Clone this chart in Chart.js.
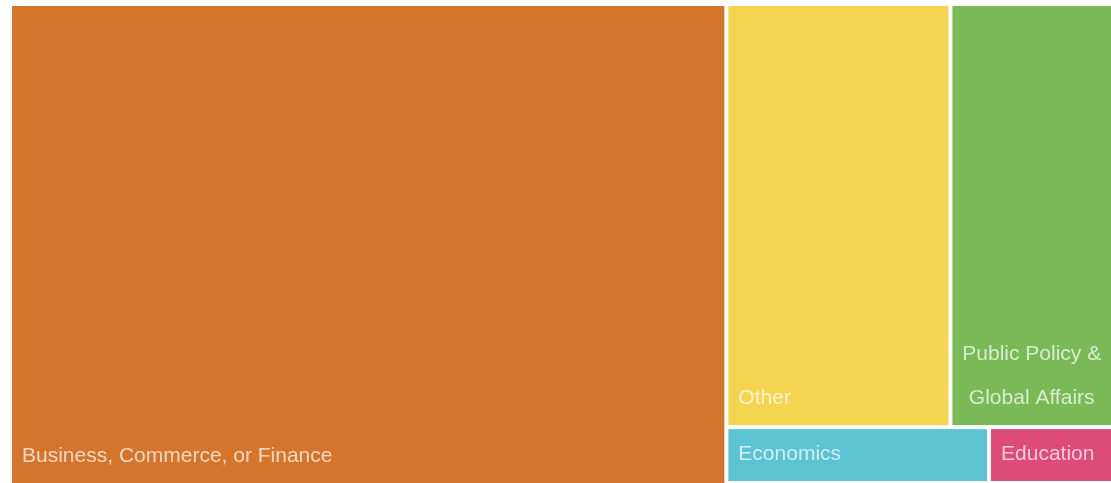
<!DOCTYPE html>
<html>
<head>
<meta charset="utf-8">
<script src="https://cdn.jsdelivr.net/npm/chart.js@4"></script>
<style>
  html, body { margin: 0; padding: 0; background: #fff; }
  #wrap { width: 1111px; height: 483px; }
</style>
</head>
<body>
<div id="wrap"><canvas id="tree"></canvas></div>
<script>
// share of each field (percent)
const categories = ["Business, Commerce, or Finance", "Other", "Public Policy & Global Affairs", "Economics", "Education"];
const labelLines = [["Business, Commerce, or Finance"], ["Other"], ["Public Policy &", "Global Affairs"], ["Economics"], ["Education"]];
const values = [65.0, 18.0, 12.9, 2.8, 1.3];
const colors = ["#D5752B", "#F5D54F", "#79B956", "#5BC3D1", "#DF4B78"];

// first item fills a column, rest is split in a top row (items 1,2) and bottom row (3,4)
function layout() {
    let total = values.reduce((a, b) => a + b, 0);
    let rects = [];
    let x0 = values[0] / total * 100;
    rects.push({x0: 0, x1: x0, y0: 0, y1: 100});
    let rest = total - values[0];
    let rows = [[1, 2], [3, 4]];
    let y = 0;
    rows.forEach(row => {
        let rowSum = row.reduce((s, i) => s + values[i], 0);
        let h = rowSum / rest * 100;
        let x = x0;
        row.forEach(i => {
            let w = values[i] / rowSum * (100 - x0);
            rects[i] = {x0: x, x1: x + w, y0: y, y1: y + h};
            x += w;
        });
        y += h;
    });
    return rects;
}

const treePlugin = {
    id: "treeCells",
    afterDatasetsDraw(chart) {
        const ctx = chart.ctx;
        const xs = chart.scales.x, ys = chart.scales.y;
        const gap = 2;
        let rects = layout();
        rects.forEach((r, i) => {
            let left = xs.getPixelForValue(r.x0) + (r.x0 > 0 ? gap : 0);
            let right = xs.getPixelForValue(r.x1) - (r.x1 < 100 ? gap : 0);
            let top = ys.getPixelForValue(r.y0) + (r.y0 > 0 ? gap : 0);
            let bottom = ys.getPixelForValue(r.y1) - (r.y1 < 100 ? gap : 0);
            ctx.save();
            ctx.fillStyle = colors[i];
            ctx.fillRect(left, top, right - left, bottom - top);

            ctx.fillStyle = "rgba(255,255,255,0.72)";
            ctx.font = "21px 'Liberation Sans', Arial, sans-serif";
            ctx.textBaseline = "alphabetic";
            let lines = labelLines[i];
            let lineH = 44;
            lines.forEach((line, k) => {
                let base = bottom - 21 - (lines.length - 1 - k) * lineH;
                if (lines.length > 1) {
                    ctx.textAlign = "center";
                    ctx.fillText(line, (left + right) / 2, base);
                } else {
                    ctx.textAlign = "left";
                    ctx.fillText(line, left + 10, base);
                }
            });
            ctx.restore();
        });
    }
};

new Chart("tree", {
    type: "scatter",
    data: {
        labels: categories,
        datasets: [{ label: "Field", data: [] }]
    },
    options: {
        responsive: true,
        maintainAspectRatio: false,
        animation: false,
        layout: { padding: { left: 12, top: 6, right: 0, bottom: 0 } },
        plugins: { legend: { display: false }, tooltip: { enabled: false } },
        scales: {
            x: { type: "linear", min: 0, max: 100, display: false },
            y: { type: "linear", min: 0, max: 100, reverse: true, display: false }
        }
    },
    plugins: [treePlugin]
});
</script>
</body>
</html>
